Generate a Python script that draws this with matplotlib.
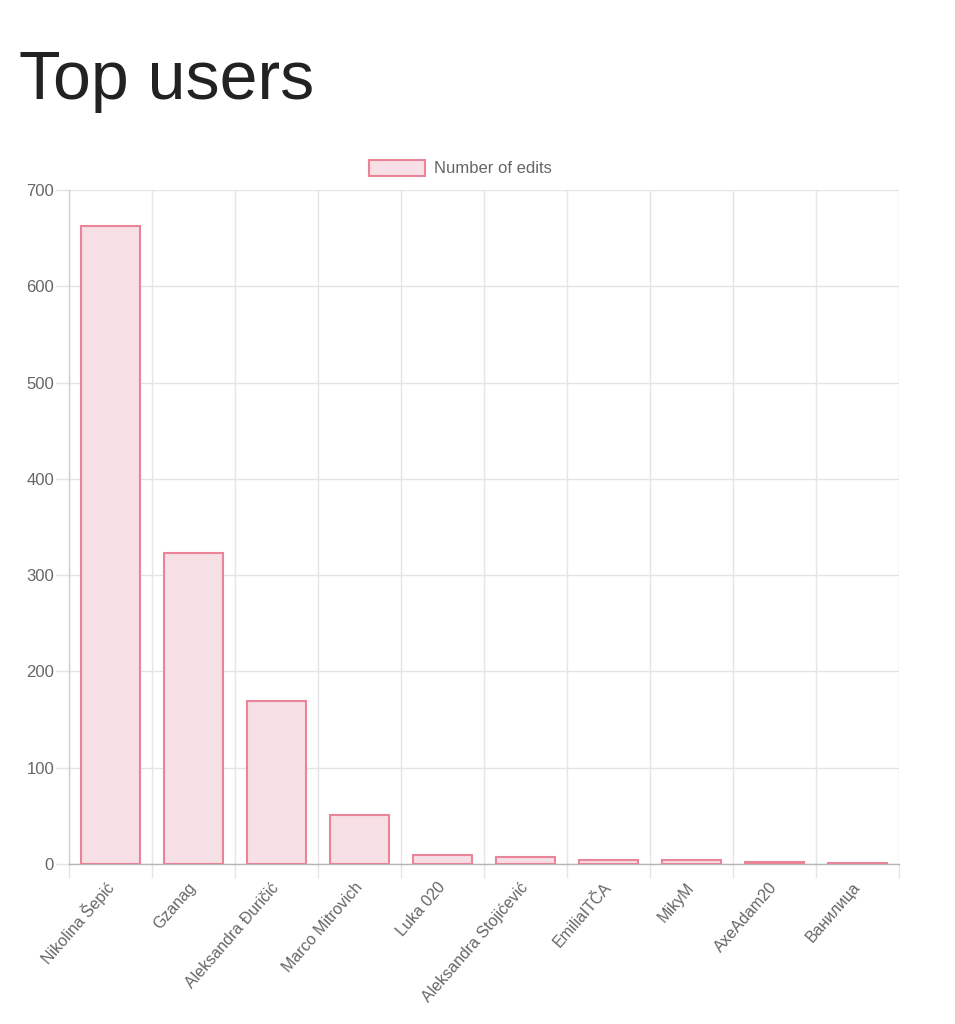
import numpy as np
import matplotlib
matplotlib.use("Agg")
import matplotlib.pyplot as plt

# data
users = ["Nikolina Šepić", "Gzanag", "Aleksandra Đuričić", "Marco Mitrovich",
         "Luka 020", "Aleksandra Stojićević", "EmiliaITČA", "MikyM",
         "AxeAdam20", "Ванилица"]
edits = [663, 323, 169, 51, 9, 7, 4, 4, 2, 1]
series_label = "Number of edits"
y_ticks = [0, 100, 200, 300, 400, 500, 600, 700]

W, H = 955, 1024
PX = 72 / 100  # points per pixel at dpi 100
plt.rcParams['font.family'] = ['Liberation Sans', 'DejaVu Sans']

fig = plt.figure(figsize=(W / 100, H / 100), dpi=100)
ax = fig.add_axes([69 / W, 1 - 864 / H, (899 - 69) / W, (864 - 190) / H])

fill = '#f6dfe5'
edge = '#ea8599'
grid_c = '#e5e5e5'
txt_c = '#666666'

x = np.arange(len(users))
ax.bar(x, edits, width=0.72, color=fill, edgecolor=edge, linewidth=1.5,
       label=series_label, zorder=3)

ax.set_xlim(-0.5, len(users) - 0.5)
ax.set_ylim(0, 700)
ax.set_yticks(y_ticks)
ax.set_yticklabels([str(v) for v in y_ticks])

# vertical grid lines sit between categories (chart.js offset grid)
ax.set_xticks(x)
ax.set_xticks(np.arange(len(users) + 1) - 0.5, minor=True)
ax.set_xticklabels(users, rotation=49, ha='right', va='center',
                   rotation_mode='anchor')
ax.tick_params(axis='x', which='major', length=0, pad=15, labelsize=11.5,
               labelcolor=txt_c)
ax.tick_params(axis='x', which='minor', length=14 * PX, width=1, color=grid_c)
ax.tick_params(axis='y', length=13 * PX, width=1, color=grid_c, pad=2 * PX,
               labelsize=12, labelcolor=txt_c)

ax.grid(True, axis='y', color=grid_c, linewidth=1, zorder=0)
ax.grid(True, axis='x', which='minor', color=grid_c, linewidth=1, zorder=0)
ax.set_axisbelow(True)

for s in ['top', 'right']:
    ax.spines[s].set_visible(False)
ax.spines['left'].set_color('#d0d0d0')
ax.spines['bottom'].set_color('#b5b5b5')
ax.spines['left'].set_linewidth(1)
ax.spines['bottom'].set_linewidth(1)

leg = ax.legend(loc='center', bbox_to_anchor=(460 / W, 1 - 168 / H),
                bbox_transform=fig.transFigure, frameon=False, fontsize=12,
                handlelength=3.4, handleheight=1.1, handletextpad=0.5,
                borderpad=0)
for t in leg.get_texts():
    t.set_color(txt_c)

fig.text(19 / W, 1 - 99 / H, "Top users", fontsize=49, color='#222222',
         va='baseline', ha='left')

fig.savefig("out.png", dpi=100, facecolor='white')
